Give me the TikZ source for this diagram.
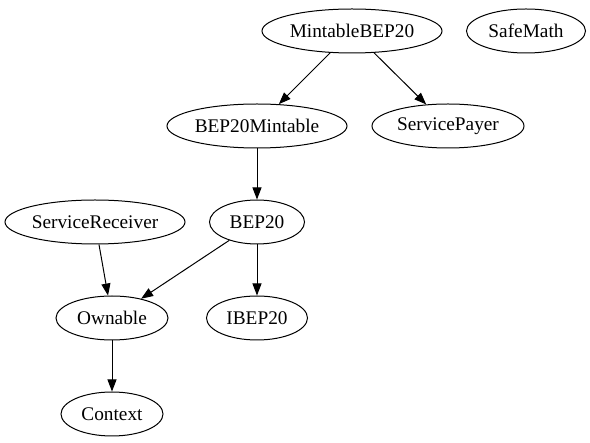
\documentclass[tikz,border=0pt]{standalone}
\usepackage{fontspec}
\setmainfont{Liberation Serif}
\usetikzlibrary{shapes.geometric,arrows.meta}
\begin{document}
\begin{tikzpicture}[x=1pt, y=-1pt,
    contract/.style={ellipse, draw, line width=1pt, inner sep=0pt,
        minimum height=44, font=\fontsize{19.3}{21}\selectfont},
    dep/.style={-{Triangle[length=12pt, width=9pt]}, line width=1pt}]
    \useasboundingbox (0,0) rectangle (590,443);

    % 第一行
    \node[contract, minimum width=180] (mintable) at (352,31) {MintableBEP20};
    \node[contract, minimum width=119] (safemath) at (526,31) {SafeMath};

    % 第二行
    \node[contract, minimum width=180] (bepmint) at (257,126) {BEP20Mintable};
    \node[contract, minimum width=152] (payer) at (448,126) {ServicePayer};

    % 第三行
    \node[contract, minimum width=180] (receiver) at (95,222) {ServiceReceiver};
    \node[contract, minimum width=95] (bep) at (257,222) {BEP20};

    % 第四行
    \node[contract, minimum width=112] (ownable) at (112,318) {Ownable};
    \node[contract, minimum width=101] (ibep) at (257,318) {IBEP20};

    % 第五行
    \node[contract, minimum width=102] (context) at (112,414) {Context};

    % 继承关系
    \draw[dep] (mintable) -- (bepmint);
    \draw[dep] (mintable) -- (payer);
    \draw[dep] (bepmint) -- (bep);
    \draw[dep] (receiver) -- (ownable);
    \draw[dep] (bep) -- (ownable);
    \draw[dep] (bep) -- (ibep);
    \draw[dep] (ownable) -- (context);
\end{tikzpicture}
\end{document}
